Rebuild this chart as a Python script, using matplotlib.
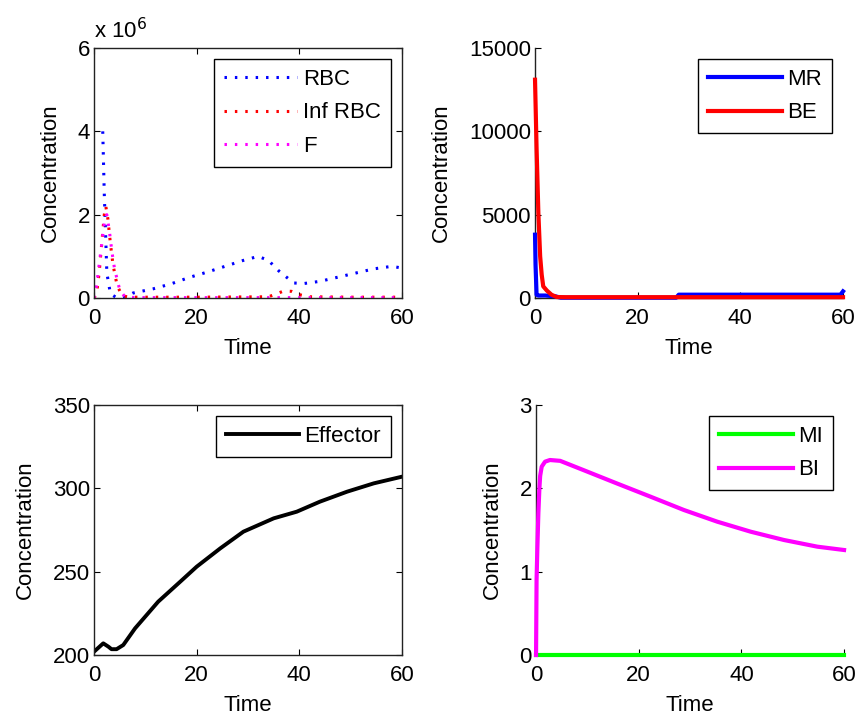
import matplotlib
matplotlib.use('Agg')
import matplotlib.pyplot as plt
import numpy as np
from matplotlib.ticker import FuncFormatter

plt.rcParams['font.family'] = ['Liberation Sans', 'DejaVu Sans']
FS = 16
plt.rcParams['font.size'] = FS

# ---- data (time in days) ----
t_rbc = [1.7, 2.0, 2.5, 3.2, 4.5, 6, 7.6, 11.5, 15, 18.7, 22, 25.5, 29, 32, 34, 36, 37.5, 39, 41, 44, 47.5, 51, 54.5, 58, 60]
rbc = [4.0, 2.5, 0.6, 0.1, 0.0, 0.02, 0.12, 0.22, 0.34, 0.5, 0.62, 0.76, 0.9, 1.0, 0.9, 0.65, 0.5, 0.36, 0.35, 0.4, 0.5, 0.6, 0.7, 0.76, 0.72]

t_inf = [0, 0.5, 1.0, 1.5, 2.0, 2.3, 2.7, 3.2, 3.7, 4.5, 5.5, 7, 20, 34, 35.5, 37, 38.5, 40, 42, 50, 60]
inf_rbc = [0.0, 0.1, 0.6, 1.3, 2.0, 2.2, 1.9, 1.3, 0.8, 0.3, 0.05, 0.02, 0.02, 0.03, 0.1, 0.17, 0.16, 0.08, 0.03, 0.02, 0.02]

t_f = [0, 0.5, 1.0, 1.5, 2.0, 2.5, 3.0, 3.5, 4.0, 5.0, 6.0, 8, 30, 60]
f_val = [0.0, 0.3, 0.8, 1.3, 1.8, 2.0, 1.6, 1.1, 0.7, 0.2, 0.03, 0.01, 0.01, 0.01]

t_mr = [0, 0.1, 0.3, 0.6, 2, 4, 5, 27.5, 28, 59.5, 60]
mr = [3800, 2000, 200, 150, 150, 100, 20, 20, 200, 200, 400]

t_be = [0, 0.3, 0.65, 1.0, 1.3, 1.6, 2.3, 3.2, 4.2, 6, 60]
be = [13100, 9000, 5100, 2500, 1400, 700, 450, 200, 60, 50, 50]

t_eff = [0, 1.8, 2.8, 3.4, 4.4, 5.7, 8, 12.5, 16.8, 20, 24.6, 29.1, 35, 39.5, 44, 49.3, 54.5, 60]
effector = [202, 207, 205, 203.5, 203.5, 206, 216, 232, 244, 253, 264, 274, 282, 286, 292, 298, 303, 307]

t_bi = [0, 0.1, 0.26, 0.45, 0.65, 0.8, 1.1, 1.75, 2.7, 4.7, 9.2, 15.7, 22.3, 28.8, 35.3, 41.8, 48.3, 54.8, 60]
bi = [0.0, 0.9, 1.3, 1.7, 2.0, 2.15, 2.26, 2.32, 2.34, 2.33, 2.22, 2.06, 1.90, 1.74, 1.60, 1.48, 1.38, 1.30, 1.26]

t_mi = [0, 60]
mi = [0, 0]

fig = plt.figure(figsize=(8.57, 7.19), dpi=100)
w, h = 0.3594, 0.3477
ax1 = fig.add_axes([0.1097, 0.5855, w, h])
ax2 = fig.add_axes([0.6243, 0.5855, w, h])
ax3 = fig.add_axes([0.1097, 0.089, w, h])
ax4 = fig.add_axes([0.6255, 0.089, w, h])

dot = (0, (0.8, 2.6))


def style(ax, box=True):
    ax.set_xlim(0, 60)
    ax.set_xticks([0, 20, 40, 60])
    ax.tick_params(direction='in', length=4, width=0.8, pad=3,
                   top=box, right=box, labelsize=FS)
    ax.tick_params(axis='x', pad=7)
    for s in ax.spines.values():
        s.set_linewidth(1.0)
        s.set_color('#222222')
    if not box:
        ax.spines['top'].set_visible(False)
        ax.spines['right'].set_visible(False)
    ax.set_xlabel('Time', fontsize=FS, labelpad=7)
    ax.set_ylabel('Concentration', fontsize=FS, labelpad=12)


def leg(ax):
    l = ax.legend(loc='upper right', fancybox=False, edgecolor='black',
                  framealpha=1, fontsize=FS, borderaxespad=0.5,
                  handlelength=3.3, handletextpad=0.25, borderpad=0.45,
                  labelspacing=0.55)
    l.get_frame().set_linewidth(1.0)
    return l


# top left
ax1.plot(t_rbc, np.array(rbc) * 1e6, color='blue', lw=2.2, ls=dot, label='RBC')
ax1.plot(t_inf, np.array(inf_rbc) * 1e6, color='red', lw=2.2, ls=dot, label='Inf RBC')
ax1.plot(t_f, np.array(f_val) * 1e6, color='magenta', lw=2.2, ls=dot, label='F')
ax1.set_ylim(0, 6e6)
ax1.set_yticks([0, 2e6, 4e6, 6e6])
ax1.yaxis.set_major_formatter(FuncFormatter(lambda v, p: '%d' % round(v / 1e6)))
style(ax1)
ax1.text(0.0, 1.02, 'x 10$^6$', transform=ax1.transAxes, fontsize=FS, ha='left', va='bottom')
leg(ax1)

# top right
ax2.plot(t_mr, mr, color='blue', lw=3, label='MR', clip_on=False, zorder=3)
ax2.plot(t_be, be, color='red', lw=3, label='BE', clip_on=False, zorder=3)
ax2.set_ylim(0, 15000)
ax2.set_yticks([0, 5000, 10000, 15000])
style(ax2, box=False)
leg(ax2)

# bottom left
ax3.plot(t_eff, effector, color='black', lw=2.8, label='Effector')
ax3.set_ylim(200, 350)
ax3.set_yticks([200, 250, 300, 350])
style(ax3)
leg(ax3)

# bottom right
ax4.plot(t_mi, mi, color='#00ff00', lw=3, label='MI', clip_on=False, zorder=3)
ax4.plot(t_bi, bi, color='magenta', lw=3, label='BI', clip_on=False, zorder=3)
ax4.set_ylim(0, 3)
ax4.set_yticks([0, 1, 2, 3])
style(ax4, box=False)
leg(ax4)

fig.savefig('out.png', dpi=100)
